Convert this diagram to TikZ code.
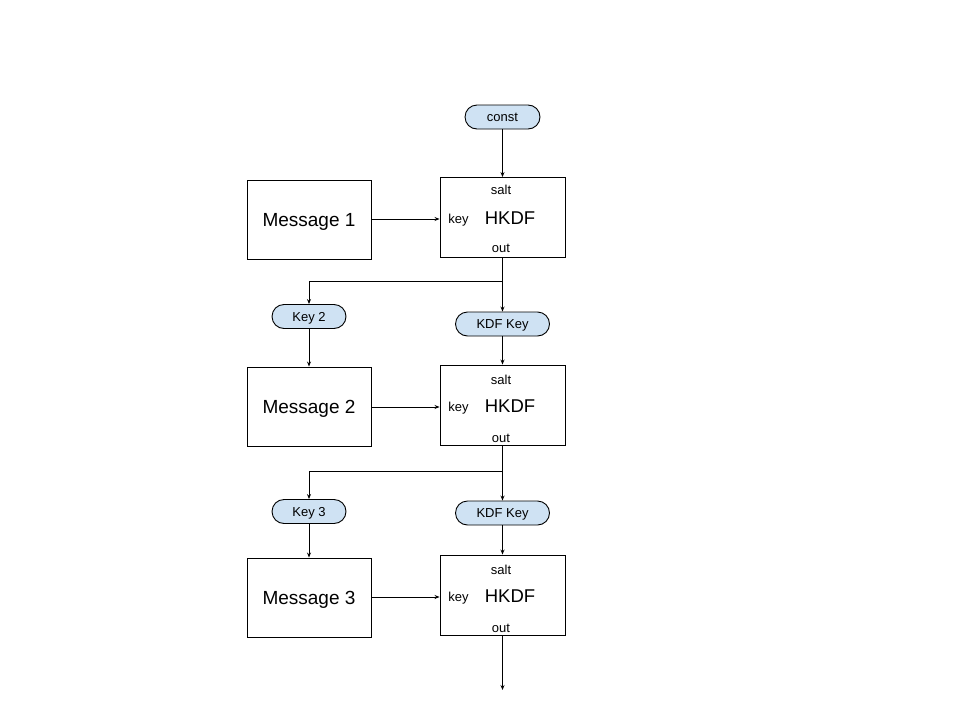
\documentclass[tikz,border=0pt]{standalone}
\usepackage{fontspec}
\setmainfont{Liberation Sans}
\usetikzlibrary{arrows.meta}
\definecolor{pillblue}{HTML}{CFE2F3}
\begin{document}
\begin{tikzpicture}[x=1pt,y=-1pt,
  box/.style={draw,line width=0.9pt,minimum width=124pt,minimum height=79pt,inner sep=0pt,text depth=0pt,font=\fontsize{19}{22}\selectfont},
  pill/.style={draw,line width=0.9pt,fill=pillblue,rounded corners=12pt,minimum height=24pt,inner sep=0pt,text depth=0pt,font=\fontsize{13}{15}\selectfont},
  lbl/.style={inner sep=0pt,font=\fontsize{13}{15}\selectfont},
  big/.style={inner sep=0pt,text depth=0pt,font=\fontsize{18.5}{21}\selectfont},
  conn/.style={line width=0.9pt,-{Stealth[length=5pt,width=4pt]}},
  line/.style={line width=0.9pt}]
\useasboundingbox (0,0) rectangle (960,720);

% row 1
\node[pill,minimum width=75pt] (const) at (502.5,117) {const};
\node[box] (m1) at (309,219.5) {Message 1};
\node[box,minimum width=125pt,minimum height=80pt] (h1) at (502.5,217.5) {};
\node[lbl] (s1) at (501,190) {salt};
\node[lbl] (k1) at (458.5,220) {key};
\node[big] (t1) at (510,218) {HKDF};
\node[lbl] (o1) at (501,248) {out};
\draw[conn] (const) -- (h1);
\draw[conn] (m1.east |- 0,219) -- (h1.west |- 0,219);

% row 2
\coordinate (b1) at (502.5,281);
\node[pill,minimum width=74pt] (key2) at (309,316.5) {Key 2};
\node[pill,minimum width=94pt] (kdf2) at (502.5,324) {KDF Key};
\node[box] (m2) at (309,406.5) {Message 2};
\node[box,minimum width=125pt,minimum height=80pt] (h2) at (502.5,405) {};
\node[lbl] (s2) at (501,380) {salt};
\node[lbl] (k2) at (458.5,408) {key};
\node[big] (t2) at (510,406) {HKDF};
\node[lbl] (o2) at (501,438) {out};
\draw[line] (h1.south) -- (b1);
\draw[conn] (b1) -| (key2.north);
\draw[conn] (b1) -- (kdf2.north);
\draw[conn] (key2) -- (m2);
\draw[conn] (kdf2) -- (h2);
\draw[conn] (m2.east |- 0,407) -- (h2.west |- 0,407);

% row 3
\coordinate (b2) at (502.5,471);
\node[pill,minimum width=74pt] (key3) at (309,511.5) {Key 3};
\node[pill,minimum width=94pt] (kdf3) at (502.5,513) {KDF Key};
\node[box] (m3) at (309,597.5) {Message 3};
\node[box,minimum width=125pt,minimum height=80pt] (h3) at (502.5,595) {};
\node[lbl] (s3) at (501,570) {salt};
\node[lbl] (k3) at (458.5,598) {key};
\node[big] (t3) at (510,596) {HKDF};
\node[lbl] (o3) at (501,628) {out};
\coordinate (end) at (502.5,690);
\draw[line] (h2.south) -- (b2);
\draw[conn] (b2) -| (key3.north);
\draw[conn] (b2) -- (kdf3.north);
\draw[conn] (key3) -- (m3);
\draw[conn] (kdf3) -- (h3);
\draw[conn] (m3.east |- 0,597) -- (h3.west |- 0,597);
\draw[conn] (h3.south) -- (end);
\end{tikzpicture}
\end{document}
